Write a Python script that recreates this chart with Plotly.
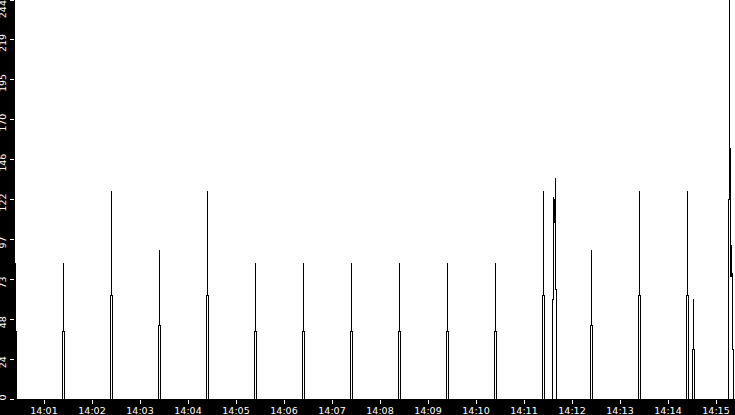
import plotly.graph_objects as go

DAY = "2024-01-01 "

# samples (time of day, value); drawn as steps
times = [
    "14:00:23.75", "14:00:24", "14:00:24.25", "14:00:25.25",
    "14:01:22.75", "14:01:24", "14:01:24.25", "14:01:25.25",
    "14:02:22.75", "14:02:24", "14:02:24.25", "14:02:25.25",
    "14:03:22.75", "14:03:24", "14:03:24.25", "14:03:25.25",
    "14:04:22.75", "14:04:24", "14:04:24.25", "14:04:25.25",
    "14:05:22.75", "14:05:24", "14:05:24.25", "14:05:25.25",
    "14:06:22.75", "14:06:24", "14:06:24.25", "14:06:25.25",
    "14:07:22.75", "14:07:24", "14:07:24.25", "14:07:25.25",
    "14:08:22.75", "14:08:24", "14:08:24.25", "14:08:25.25",
    "14:09:22.75", "14:09:24", "14:09:24.25", "14:09:25.25",
    "14:10:22.75", "14:10:24", "14:10:24.25", "14:10:25.25",
    "14:11:22.75", "14:11:24", "14:11:24.25", "14:11:25.25",
    "14:11:35.9", "14:11:37.1", "14:11:37.4", "14:11:37.7", "14:11:38", "14:11:38.3",
    "14:11:38.5", "14:11:38.75", "14:11:39", "14:11:40",
    "14:12:22.75", "14:12:24", "14:12:24.25", "14:12:25.25",
    "14:13:22.75", "14:13:24", "14:13:24.25", "14:13:25.25",
    "14:14:22.75", "14:14:24", "14:14:24.25", "14:14:25.25",
    "14:14:30.35", "14:14:31.6", "14:14:31.85", "14:14:32.85",
    "14:15:15", "14:15:16.25", "14:15:16.5", "14:15:16.75", "14:15:17",
    "14:15:17.25", "14:15:17.5", "14:15:17.75", "14:15:18", "14:15:18.25",
    "14:15:18.5", "14:15:18.75", "14:15:19", "14:15:20", "14:15:21.75", "14:15:24",
]
values = [
    0, 83, 41, 0,
    41, 83, 41, 0,
    63, 127, 63, 0,
    45, 91, 45, 0,
    63, 127, 63, 0,
    41, 83, 41, 0,
    41, 83, 41, 0,
    41, 83, 41, 0,
    41, 83, 41, 0,
    41, 83, 41, 0,
    41, 83, 41, 0,
    63, 127, 63, 0,
    61, 123, 108, 122, 108, 122,
    108, 135, 67, 0,
    45, 91, 45, 0,
    63, 127, 63, 0,
    63, 127, 63, 0,
    30, 61, 30, 0,
    122, 244, 153, 122, 153,
    122, 153, 94, 75, 94,
    75, 94, 77, 30, 0, 0,
]

y_tick_vals = [0, 24.4, 48.8, 73.2, 97.6, 122, 146.4, 170.8, 195.2, 219.6, 244]
# labels sit a little below their ticks in the original: trailing no-break
# spaces push the rotated text down (the top one further, to stay in view)
P = "\u00a0\u00a0\u00a0"
y_tick_text = ["0", "24" + P, "48" + P, "73" + P, "97" + P, "122" + P, "146" + P,
               "170" + P, "195" + P, "219" + P, "244" + P + P + "\u00a0"]

x_start = "14:00:23.75"
x_end = "14:15:23.75"

tick_font = dict(family="DejaVu Sans", size=9.5, color="white")

fig = go.Figure(go.Scatter(
    x=[DAY + t for t in times], y=values, mode="lines",
    line=dict(color="black", width=1, shape="hv"), hoverinfo="skip", showlegend=False))

fig.update_layout(
    width=735, height=415,
    margin=dict(l=15, r=0, t=0, b=16, pad=0),
    paper_bgcolor="black", plot_bgcolor="white",
    xaxis=dict(type="date", range=[DAY + x_start, DAY + x_end],
               tickformat="%H:%M", dtick=60000, tick0=DAY + "14:00:00",
               ticks="outside", ticklen=4, tickcolor="white", tickfont=tick_font,
               ticklabelstandoff=-1,
               showgrid=False, zeroline=False, showline=False, automargin=False),
    yaxis=dict(range=[0, 244], tickvals=y_tick_vals, ticktext=y_tick_text,
               tickangle=-90, ticks="outside", ticklen=4, tickcolor="white",
               ticklabeloverflow="allow",
               tickfont=tick_font, showgrid=False, zeroline=False, showline=False,
               automargin=False),
)

# no page margin, and hard (non antialiased) line edges like the original
post = """
document.body.style.margin = '0';
var gd = document.getElementById('{plot_id}');
gd.querySelectorAll('.scatterlayer path.js-line').forEach(function(p) {
    p.style.shapeRendering = 'crispEdges';
});
"""

fig.write_html("out.html", config={"displayModeBar": False}, post_script=post)
